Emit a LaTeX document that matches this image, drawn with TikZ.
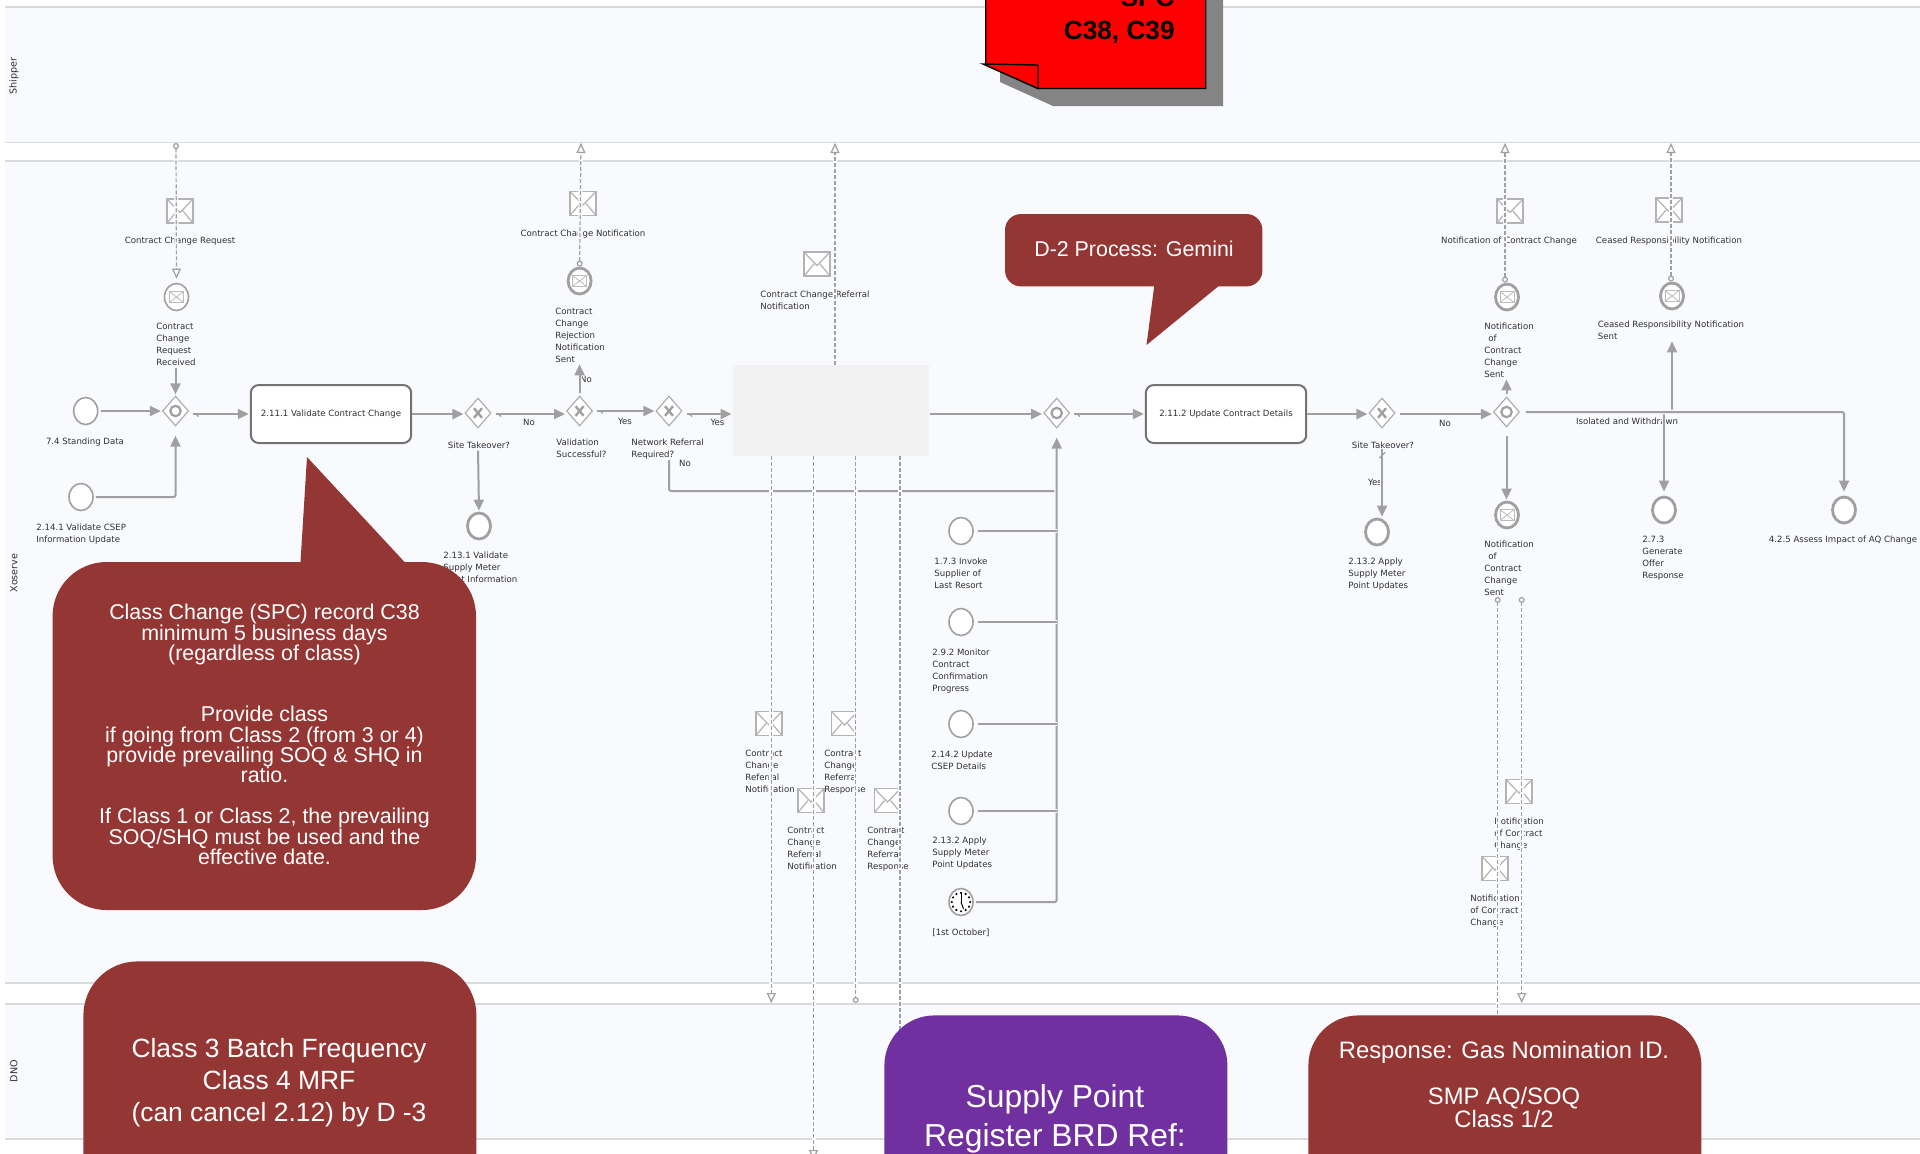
\documentclass[tikz,border=0pt]{standalone}
\usepackage{fontspec}
\setmainfont{Liberation Sans}
\newfontfamily\bpmnfont{DejaVu Sans}
\usepackage{xcolor}
\usetikzlibrary{arrows.meta,shapes.geometric,decorations.markings}

\definecolor{lanefill}{HTML}{F9FAFD}
\definecolor{laneline}{HTML}{D9DADC}
\definecolor{linegray}{HTML}{A0A0A0}
\definecolor{maroon}{HTML}{943634}
\definecolor{violet}{HTML}{7030A0}
\definecolor{noteshade}{HTML}{848484}
\definecolor{lbltext}{HTML}{303030}
\newcommand{\lblfont}{\bpmnfont\fontsize{4.3}{6}\selectfont}
\newcommand{\pp}{path picture bounding box}

\begin{document}
\begin{tikzpicture}[x=0.5pt,y=-0.5pt,>={Triangle[length=5.5pt,width=5pt]},
	lbl/.style={font=\lblfont,text=lbltext,inner sep=0pt,align=left,anchor=north west,yshift=-1pt},
	lblc/.style={font=\lblfont,text=lbltext,inner sep=0pt,align=center,anchor=center,yshift=-0.4pt},
	lanelbl/.style={font=\bpmnfont\fontsize{4.8}{6}\selectfont,text=lbltext,inner sep=0pt,rotate=90},
	event/.style={ellipse,draw=linegray,fill=white,line width=0.8pt,inner sep=0pt,minimum width=12pt,minimum height=13.5pt},
	endevent/.style={event,line width=1.4pt,minimum width=11.5pt,minimum height=13pt},
	msgmark/.style={path picture={
		\draw[linegray!70,line width=0.5pt] ([xshift=-3.5pt,yshift=-2.7pt]\pp.center) rectangle ([xshift=3.5pt,yshift=2.7pt]\pp.center);
		\draw[linegray!70,line width=0.4pt] ([xshift=-3.5pt,yshift=2.7pt]\pp.center) -- (\pp.center) -- ([xshift=3.5pt,yshift=2.7pt]\pp.center);
		\draw[linegray!70,line width=0.4pt] ([xshift=-3.5pt,yshift=-2.7pt]\pp.center) -- (\pp.center) -- ([xshift=3.5pt,yshift=-2.7pt]\pp.center);}},
	gateway/.style={diamond,draw=linegray!85,fill=white,line width=0.6pt,inner sep=0pt,minimum width=13pt,minimum height=15pt},
	gatex/.style={gateway,path picture={
		\draw[linegray,line width=1.2pt] ([xshift=-2pt,yshift=-2.4pt]\pp.center) -- ([xshift=2pt,yshift=2.4pt]\pp.center);
		\draw[linegray,line width=1.2pt] ([xshift=-2pt,yshift=2.4pt]\pp.center) -- ([xshift=2pt,yshift=-2.4pt]\pp.center);}},
	gateo/.style={gateway,path picture={
		\draw[linegray,line width=1.1pt] (\pp.center) circle (2.6pt);}},
	taskbox/.style={rectangle,draw=black!55,fill=white,line width=1pt,rounded corners=4pt,inner sep=0pt,minimum width=80.2pt,minimum height=29pt,font=\lblfont,text=lbltext},
	envelope/.style={rectangle,draw=linegray!80,fill=white,line width=0.9pt,inner sep=0pt,minimum width=13pt,minimum height=12pt,path picture={
		\draw[linegray!80,line width=0.6pt] (\pp.north west) -- ([yshift=-0.8pt]\pp.center) -- (\pp.north east);
		\draw[linegray!80,line width=0.6pt] (\pp.south west) -- ([xshift=-1.5pt]\pp.center);
		\draw[linegray!80,line width=0.6pt] (\pp.south east) -- ([xshift=1.5pt]\pp.center);}},
	flow/.style={draw=linegray,line width=1pt,->,shorten <=1pt,shorten >=0.5pt,preaction={draw=lanefill,line width=2.4pt,-}},
	plainflow/.style={flow,-},
	tickflow/.style={flow,postaction={decorate,decoration={markings,mark=at position 3.5pt with {\draw[-,linegray,line width=0.6pt] (-1.6pt,1.6pt) -- (1.6pt,-1.6pt);}}}},
	msgflow/.style={draw=linegray,line width=0.6pt,dash pattern=on 2pt off 1pt,preaction={draw=lanefill,line width=2pt,solid,-}},
	msgboth/.style={msgflow,{Circle[open,length=3pt,width=3pt]}-{Triangle[open,length=5pt,width=4.5pt]}},
	msgto/.style={msgflow,-{Triangle[open,length=5pt,width=4.5pt]}},
	msgdot/.style={msgflow,-{Circle[open,length=3pt,width=3pt]}},
	calloutbox/.style={rectangle,inner sep=0pt,fill=maroon},
	callouttext/.style={inner sep=0pt,text=white,align=center}]

	\path[use as bounding box,clip] (0,0) rectangle (1920,1153);
	\fill[white] (0,0) rectangle (1920,1153);

	% The lanes
	\foreach \ytop/\ybot in {7/142.5,161/983,1004/1139} {
		\fill[lanefill] (5,\ytop) rectangle (1920,\ybot);
		\draw[laneline,line width=0.8pt] (5,\ytop) -- (1920,\ytop);
		\draw[laneline,line width=0.8pt] (5,\ybot) -- (1920,\ybot);
	}
	\node [lanelbl] at (14,76) (laneShipper) {Shipper};
	\node [lanelbl] at (14,573) (laneXoserve) {Xoserve};
	\node [lanelbl] at (14,1071) (laneDNO) {DNO};

	% The events and gateways
	\node [event] at (85.7,411) (evStanding) {};
	\node [event] at (81,497) (evCsep) {};
	\node [event,msgmark] at (176.5,297) (evRequest) {};
	\node [gateo] at (175.5,411) (gwJoin) {};
	\node [taskbox] at (331,414) (taskValidate) {2.11.1 Validate Contract Change};
	\node [gatex] at (478,413) (gwSite) {};
	\node [endevent] at (479,526) (evSupply) {};
	\node [gatex] at (579.6,411) (gwValid) {};
	\node [endevent,msgmark] at (579.6,281) (evReject) {};
	\node [gatex] at (669,411) (gwNetwork) {};
	\node [gateo] at (1056.7,413) (gwMerge) {};
	\node [taskbox] at (1226,414) (taskUpdate) {2.11.2 Update Contract Details};
	\node [gatex] at (1382,413) (gwSiteB) {};
	\node [endevent] at (1377,532) (evApply) {};
	\node [gateo] at (1506.5,412) (gwNotify) {};
	\node [endevent,msgmark] at (1507,297) (evNotifyUp) {};
	\node [endevent,msgmark] at (1672,296) (evCeased) {};
	\node [endevent,msgmark] at (1507,515) (evNotifyDown) {};
	\node [endevent] at (1664,510) (evOffer) {};
	\node [endevent] at (1844,510) (evAssess) {};
	\node [event] at (961,531) (evInvoke) {};
	\node [event] at (961,622) (evMonitor) {};
	\node [event] at (961,724) (evUpdate) {};
	\node [event] at (961,811) (evPoint) {};
	\node [event,path picture={
		\foreach \a in {0,30,...,330} \fill[black] (\pp.center) ++(\a:4.6pt) circle (0.6pt);
		\draw[black,line width=0.5pt] (\pp.center) -- ++(0,4.6pt);
		\draw[black,line width=0.5pt] (\pp.center) -- ++(-70:3.6pt);}] at (961,902) (evClock) {};

	% The envelopes
	\node [envelope] at (180,211) (mailRequest) {};
	\node [envelope] at (583,203.5) (mailNotice) {};
	\node [envelope] at (817,264) (mailReferral) {};
	\node [envelope] at (1510,211) (mailChange) {};
	\node [envelope] at (1669,210) (mailCeased) {};
	\node [envelope] at (769,723.5) (mailRefA) {};
	\node [envelope] at (844.5,723.5) (mailRefB) {};
	\node [envelope] at (811,800.5) (mailRefC) {};
	\node [envelope] at (887.5,800.5) (mailRefD) {};
	\node [envelope] at (1519,791.5) (mailNoteA) {};
	\node [envelope] at (1495,868.5) (mailNoteB) {};

	% The labels
	\node [lblc] at (180,240) (lblMailRequest) {Contract Change Request};
	\node [lbl] at (156,321) (lblRequest) {Contract\\Change\\Request\\Received};
	\node [lblc] at (85,441) (lblStanding) {7.4 Standing Data};
	\node [lbl] at (36,522) (lblCsep) {2.14.1 Validate CSEP\\Information Update};
	\node [lblc] at (479,444) (lblSite) {Site Takeover?};
	\node [lbl] at (443,550) (lblSupply) {2.13.1 Validate\\Supply Meter\\Point Information};
	\node [lblc] at (529,422) (lblNoA) {No};
	\node [lbl] at (556,437) (lblValid) {Validation\\Successful?};
	\node [lblc] at (586,379) (lblNoB) {No};
	\node [lbl] at (555,306) (lblReject) {Contract\\Change\\Rejection\\Notification\\Sent};
	\node [lblc] at (583,233) (lblMailNotice) {Contract Change Notification};
	\node [lblc] at (625,421) (lblYesA) {Yes};
	\node [lbl] at (631,437) (lblNetwork) {Network Referral\\Required?};
	\node [lblc] at (717.5,422) (lblYesB) {Yes};
	\node [lblc] at (685,463) (lblNoC) {No};
	\node [lbl] at (760,289) (lblMailReferral) {Contract Change Referral\\Notification};
	\node [lblc] at (1383,444) (lblSiteB) {Site Takeover?};
	\node [lblc] at (1375,482) (lblYesC) {Yes};
	\node [lbl] at (1348,556) (lblApply) {2.13.2 Apply\\Supply Meter\\Point Updates};
	\node [lblc] at (1445,423) (lblNoD) {No};
	\node [lbl] at (1484,321) (lblNotifyUp) {Notification\\\hspace*{2pt}of\\Contract\\Change\\Sent};
	\node [lbl] at (1484,539) (lblNotifyDown) {Notification\\\hspace*{2pt}of\\Contract\\Change\\Sent};
	\node [lblc] at (1509,240) (lblMailChange) {Notification of Contract Change};
	\node [lblc] at (1669,240) (lblMailCeased) {Ceased Responsibility Notification};
	\node [lbl] at (1597.5,319) (lblCeased) {Ceased Responsibility Notification\\Sent};
	\node [lblc] at (1627,420) (lblIsolated) {Isolated and Withdrawn};
	\node [lbl] at (1642,534) (lblOffer) {2.7.3\\Generate\\Offer\\Response};
	\node [lblc] at (1843,539) (lblAssess) {4.2.5 Assess Impact of AQ Change};
	\node [lbl] at (934,556) (lblInvoke) {1.7.3 Invoke\\Supplier of\\Last Resort};
	\node [lbl] at (932,647) (lblMonitor) {2.9.2 Monitor\\Contract\\Confirmation\\Progress};
	\node [lbl] at (931,749) (lblUpdate) {2.14.2 Update\\CSEP Details};
	\node [lbl] at (932,835) (lblPoint) {2.13.2 Apply\\Supply Meter\\Point Updates};
	\node [lblc] at (961,932) (lblClock) {[1st October]};
	\node [lbl] at (745,748) (lblRefA) {Contract\\Change\\Referral\\Notification};
	\node [lbl] at (824,748) (lblRefB) {Contract\\Change\\Referral\\Response};
	\node [lbl] at (787,825) (lblRefC) {Contract\\Change\\Referral\\Notification};
	\node [lbl] at (867,825) (lblRefD) {Contract\\Change\\Referral\\Response};
	\node [lbl] at (1494,816) (lblNoteA) {Notification\\of Contract\\Change};
	\node [lbl] at (1470,893) (lblNoteB) {Notification\\of Contract\\Change};

	% Free ends of the message flows
	\coordinate (topRequest) at (176,143);
	\coordinate (topNotice) at (581,143);
	\coordinate (topReferral) at (835,143);
	\coordinate (topChange) at (1505,143);
	\coordinate (topCeased) at (1671,143);
	\coordinate (downRefA) at (771.3,1003);
	\coordinate (downRefB) at (813.5,1160);
	\coordinate (downRefC) at (855.7,1003);
	\coordinate (downRefD) at (900,1030);
	\coordinate (startNoteA) at (1497.7,597);
	\coordinate (endNoteA) at (1497.7,1030);
	\coordinate (startNoteB) at (1521.7,597);
	\coordinate (endNoteB) at (1521.7,1003);

	% The grey block, under the flows that leave it
	\node [rectangle,fill=black!5,inner sep=0pt,minimum width=98.2pt,minimum height=45.5pt] at (831.2,410.5) (blockHidden) {};

	% Graph edges
	\path
	(evStanding.east) edge[flow] (gwJoin.west)
	(lblRequest.south -| gwJoin) edge[flow] (gwJoin.north)
	(gwJoin.east |- taskValidate.west) edge[tickflow,shorten <=2pt] (taskValidate.west)
	(taskValidate.east) edge[flow,shorten <=0pt] (gwSite.west |- taskValidate.east)
	(gwSite |- lblSite.south) edge[flow] (evSupply.north)
	(gwSite.east |- taskValidate.east) edge[tickflow,shorten <=2pt] (gwValid.west |- taskValidate.east)
	(gwValid.north) edge[flow] (gwValid |- lblReject.south)
	(gwValid.east) edge[tickflow,shorten <=2pt] (gwNetwork.west)
	(gwNetwork.east |- taskValidate.east) edge[tickflow,shorten <=2pt] (blockHidden.west |- taskValidate.east)
	(blockHidden.east |- taskValidate.east) edge[flow,shorten <=0pt] (gwMerge.west |- taskValidate.east)
	(gwMerge.east |- taskUpdate.west) edge[tickflow,shorten <=2pt] (taskUpdate.west)
	(taskUpdate.east) edge[flow,shorten <=0pt] (gwSiteB.west |- taskUpdate.east)
	(gwSiteB.east |- taskUpdate.east) edge[flow,shorten <=2pt] (gwNotify.west |- taskUpdate.east)
	(gwSiteB |- lblSiteB.south) edge[tickflow,shorten <=0pt] (gwSiteB |- evApply.north)
	(gwNotify.north) edge[flow] (gwNotify |- lblNotifyUp.south)
	(gwNotify.south) edge[flow,shorten <=4pt] (gwNotify |- evNotifyDown.north)
	(evCeased |- gwNotify.east) edge[flow,shorten <=0pt] (evCeased |- lblCeased.south)
	(evOffer |- gwNotify.east) edge[flow,shorten <=0pt,shorten >=2pt] (evOffer.north)
	;
	\draw[flow,rounded corners=1pt,shorten >=4.5pt] (evCsep.east) -| (gwJoin.south);
	\draw[plainflow,rounded corners=1pt,shorten <=0pt] (gwNetwork |- lblNetwork.south) |- (gwMerge |- 0,491);
	\draw[flow,rounded corners=1pt,shorten >=4.5pt] (evClock.east) -| (gwMerge.south);
	\draw[plainflow,rounded corners=1pt,shorten <=3pt,shorten >=2pt,->] (gwNotify.east) -| (evAssess.north);
	\foreach \source in {evInvoke,evMonitor,evUpdate,evPoint}
		\draw[plainflow,shorten <=2pt,shorten >=0pt] (\source.east) -- (\source -| gwMerge);

	% Message flows
	\draw[msgboth,shorten >=2pt] (topRequest) -- (evRequest.north);
	\draw[msgboth] (evReject.north) -- (topNotice);
	\draw[msgto] (blockHidden.north -| topReferral) -- (topReferral);
	\draw[msgboth] (evNotifyUp.north -| topChange) -- (topChange);
	\draw[msgboth] (evCeased.north -| topCeased) -- (topCeased);
	\draw[msgto] (blockHidden.south -| downRefA) -- (downRefA);
	\draw[msgto] (blockHidden.south -| downRefB) -- (downRefB);
	\draw[msgdot] (blockHidden.south -| downRefC) -- (downRefC);
	\draw[msgflow] (blockHidden.south -| downRefD) -- (downRefD);
	\draw[msgflow,{Circle[open,length=3pt,width=3pt]}-] (startNoteA) -- (endNoteA);
	\draw[msgboth] (startNoteB) -- (endNoteB);

	% The red note
	\fill[noteshade] (1000,-10) -- (1223,-10) -- (1223,106) -- (1053,106) -- (1000,82) -- cycle;
	\draw[fill=red,line width=0.7pt] (985.7,-10) -- (1205.7,-10) -- (1205.7,88.5) -- (1038,88.5) -- (985.7,65) -- cycle;
	\draw[fill=red,line width=0.7pt] (983,64) -- (1038,65) -- (1038,88.5) -- cycle;
	\node [inner sep=0pt,anchor=south east,align=right,font=\bfseries\fontsize{13.1}{16.3}\selectfont] at (1175,43.5) (noteClass) {SPC\\C38, C39};

	% The callouts
	\fill[maroon] (307,457) -- (300,570) -- (412,570) -- cycle;
	\node [calloutbox,rounded corners=27pt,minimum width=211.7pt,minimum height=174pt] at (264.3,736) (boxClassChange) {};
	\node [callouttext,font=\fontsize{10.7}{10.2}\selectfont] at (264.5,734.5) (txtClassChange)
		{Class Change (SPC) record C38\\minimum 5 business days\\(regardless of class)\\ \\ \\Provide class\\if going from Class 2 (from 3 or 4)\\provide prevailing SOQ \& SHQ in\\ratio.\\ \\If Class 1 or Class 2, the prevailing\\SOQ/SHQ must be used and the\\effective date.};
	\fill[maroon] (1146.5,345) -- (1155,280) -- (1226,280) -- cycle;
	\node [calloutbox,rounded corners=8pt,minimum width=128.7pt,minimum height=36.2pt] at (1133.7,250.2) (boxGemini) {};
	\node [callouttext,font=\fontsize{10.7}{12}\selectfont] at (1134,249) (txtGemini) {D-2 Process: Gemini};
	\node [calloutbox,rounded corners=27pt,anchor=north west,minimum width=196.5pt,minimum height=150pt] at (83,961) (boxBatch) {};
	\node [callouttext,font=\fontsize{13.2}{16}\selectfont] at (279,1083) (txtBatch) {Class 3 Batch Frequency\\Class 4 MRF\\(can cancel 2.12) by D -3};
	\node [calloutbox,fill=violet,rounded corners=25pt,anchor=north west,minimum width=171.5pt,minimum height=150pt] at (884,1015) (boxRegister) {};
	\node [callouttext,font=\fontsize{15.9}{19.5}\selectfont] at (1055,1119) (txtRegister) {Supply Point\\Register BRD Ref:};
	\node [calloutbox,rounded corners=25pt,anchor=north west,minimum width=196.5pt,minimum height=150pt] at (1308,1015) (boxResponse) {};
	\node [callouttext,font=\fontsize{11.9}{11.4}\selectfont] at (1504,1084.5) (txtResponse) {Response: Gas Nomination ID.\\ \\SMP AQ/SOQ\\Class 1/2};

\end{tikzpicture}
\end{document}
